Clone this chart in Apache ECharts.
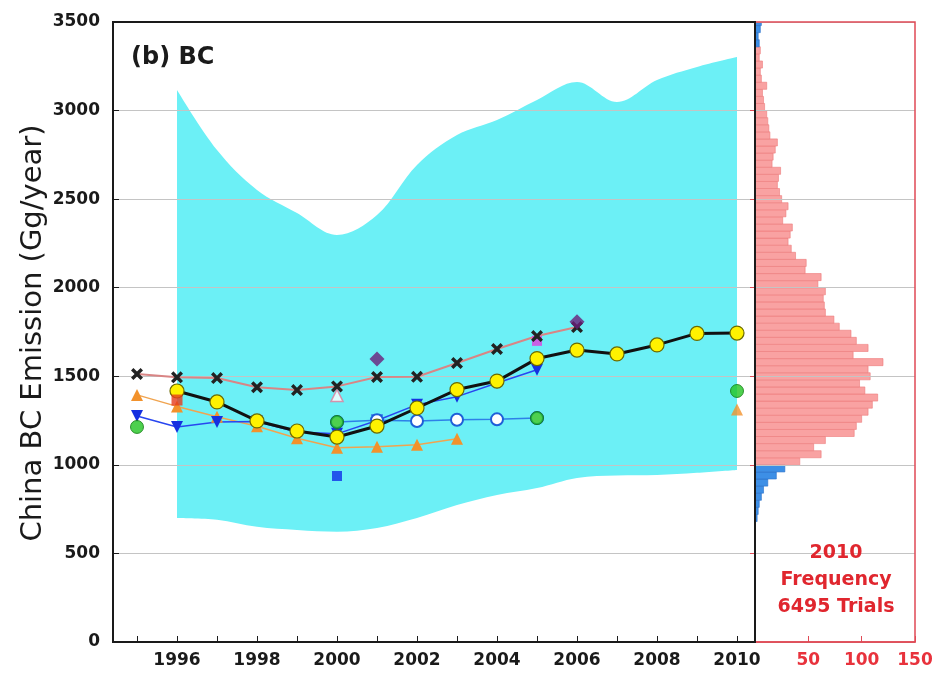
<!DOCTYPE html>
<html><head><meta charset="utf-8">
<script src="https://cdn.jsdelivr.net/npm/echarts@6/dist/echarts.min.js"></script>
<style>html,body{margin:0;padding:0;background:#fff}#c{width:936px;height:680px}</style>
</head><body><div id="c"></div>
<script>
// ---------- data ----------
const bandYears = [1996,1997,1998,1999,2000,2001,2002,2003,2004,2005,2006,2007,2008,2009,2010];
const bandUpper = [3116,2777,2552,2422,2298,2410,2693,2862,2947,3060,3161,3048,3172,3246,3302];
const bandLower = [700,690,650,632,622,644,700,773,830,869,926,940,943,955,971];

const thisStudyYears = [1996,1997,1998,1999,2000,2001,2002,2003,2004,2005,2006,2007,2008,2009,2010];
const thisStudy = [1417,1355,1248,1191,1157,1219,1321,1425,1473,1600,1648,1626,1677,1742,1744];

const crossYears = [1995,1996,1997,1998,1999,2000,2001,2002,2003,2004,2005,2006];
const crossVals = [1513,1494,1490,1438,1422,1443,1496,1497,1575,1654,1727,1778];

const blueTriYears = [1995,1996,1997,1998,1999,2000,2001,2002,2003,2004,2005];
const blueTriVals = [1276,1214,1242,1245,1185,1175,1250,1340,1385,1462,1537];

const openCircYears = [2000,2001,2002,2003,2004,2005];
const openCircVals = [1242,1252,1248,1255,1257,1264];

const orangeYears = [1995,1996,1997,1998,1999,2000,2001,2002,2003];
const orangeVals = [1395,1330,1272,1218,1150,1097,1102,1113,1147];

const orangeSingle = [[2010,1312]];
const greenCircles = [[1995,1214],[2000,1242],[2005,1264],[2010,1417]];
const redSquare = [[1996,1366]];
const blueSquare = [[2000,937]];
const purpleDiamond = [[2001,1597],[2006,1808]];
const magentaSquare = [[2005,1700]];
const pinkTriangle = [[2000,1392]];

const xTickYears = [1995,1996,1997,1998,1999,2000,2001,2002,2003,2004,2005,2006,2007,2008,2009,2010];
const xLabelYears = [1996,1998,2000,2002,2004,2006,2008,2010];

// 2010 Monte Carlo frequency histogram (bins of 40 Gg starting at 680)
const histStart = 680;
const histBinWidth = 40;
const histCounts = [
  2,3,4,6,8,12,20,28,
  42,62,55,66,93,95,100,106,110,115,103,98,108,106,120,92,106,95,90,79,74,66,65,64,66,59,62,47,48,38,
  34,31,33,35,26,29,31,25,23,21,22,24,16,17,19,21,14,13,12,11,9,8,7,11,6,5,7,4,5,
  4,3,5,6
];
const tailLow = 1000, tailHigh = 3360;

function zip(xs, ys){ return xs.map((x,i)=>[x, ys[i]]); }

const histData = histCounts.map((c,i)=>[histStart + i*histBinWidth, histStart + (i+1)*histBinWidth, c]);

const FONT = 'DejaVu Sans';
const crossPath = 'path://M2,0 L5,3 L8,0 L10,2 L7,5 L10,8 L8,10 L5,7 L2,10 L0,8 L3,5 L0,2 Z';
const SZ = 4; // z for data marks (above axes/gridlines)

const chart = echarts.init(document.getElementById('c'), null, {renderer:'canvas'});
chart.setOption({
  animation: false,
  backgroundColor: '#fff',
  grid: [
    {left: 755, top: 22, width: 160, height: 620, show: true, borderColor: '#e04a55', borderWidth: 1.5, backgroundColor: 'transparent', z: 5},
    {left: 113, top: 22, width: 642, height: 620, show: true, borderColor: '#1a1a1a', borderWidth: 2, backgroundColor: 'transparent', z: 6}
  ],
  xAxis: [
    {
      type: 'value', gridIndex: 1, min: 1994.4, max: 2010.45, z: 3,
      axisLine: {show: true, lineStyle: {color: '#1a1a1a', width: 2}},
      axisTick: {show: true, inside: true, length: 6, customValues: xTickYears, lineStyle: {color: '#1a1a1a', width: 1}},
      axisLabel: {show: true, customValues: xLabelYears, margin: 10, color: '#1a1a1a', fontFamily: FONT, fontWeight: 'bold', fontSize: 17,
        formatter: v => String(v)},
      splitLine: {show: false}
    },
    {
      type: 'value', gridIndex: 0, min: 0, max: 150, interval: 50, z: 3,
      axisLine: {show: true, lineStyle: {color: '#e04a55', width: 1.5}},
      axisTick: {show: true, inside: true, length: 6, lineStyle: {color: '#e04a55'}},
      axisLabel: {show: true, margin: 10, color: '#e8323c', fontFamily: FONT, fontWeight: 'bold', fontSize: 17,
        formatter: v => v === 0 ? '' : String(v)},
      splitLine: {show: false}
    }
  ],
  yAxis: [
    {
      type: 'value', gridIndex: 1, min: 0, max: 3500, interval: 500, z: 3,
      axisLine: {show: true, lineStyle: {color: '#1a1a1a', width: 2}},
      axisTick: {show: true, inside: true, length: 6, lineStyle: {color: '#1a1a1a'}},
      axisLabel: {margin: 13, color: '#1a1a1a', fontFamily: FONT, fontWeight: 'bold', fontSize: 17, formatter: v => String(v)},
      splitLine: {show: true, lineStyle: {color: '#c4c4c4', width: 1}}
    },
    {
      type: 'value', gridIndex: 0, min: 0, max: 3500, interval: 500, position: 'right', z: 3,
      axisLine: {show: false},
      axisTick: {show: true, inside: true, length: 5, lineStyle: {color: '#e04a55'}},
      axisLabel: {show: false},
      splitLine: {show: true, lineStyle: {color: '#c4c4c4', width: 1}}
    }
  ],
  graphic: [
    {type: 'text', x: 131, y: 46, z: 10, style: {text: '(b) BC', fill: '#1a1a1a', font: 'bold 24px "DejaVu Sans"'}},
    {type: 'text', x: 33, y: 333, rotation: Math.PI/2, z: 10,
      style: {text: 'China BC Emission (Gg/year)', fill: '#1a1a1a', font: '29px "DejaVu Sans"', align: 'center', verticalAlign: 'middle'}},
    {type: 'text', x: 836, y: 540, z: 10,
      style: {text: '2010\nFrequency\n6495 Trials', fill: '#e0262e', font: 'bold 19px "DejaVu Sans"', align: 'center', lineHeight: 27}}
  ],
  series: [
    {
      name: 'bandUpper', type: 'line', xAxisIndex: 0, yAxisIndex: 0, z: 1, silent: true,
      data: zip(bandYears, bandUpper), symbol: 'none', smooth: 0.35,
      lineStyle: {opacity: 0}, areaStyle: {color: '#6cf0f6', opacity: 1, origin: 'start'}
    },
    {
      name: 'bandLower', type: 'line', xAxisIndex: 0, yAxisIndex: 0, z: 2, silent: true,
      data: zip(bandYears, bandLower), symbol: 'none', smooth: 0.35,
      lineStyle: {opacity: 0}, areaStyle: {color: '#ffffff', opacity: 1, origin: 'start'}
    },
    {
      name: 'orange', type: 'line', xAxisIndex: 0, yAxisIndex: 0, z: SZ, data: zip(orangeYears, orangeVals),
      symbol: 'triangle', symbolSize: 12, itemStyle: {color: '#f2922c'}, lineStyle: {color: '#f0a450', width: 1.5}
    },
    {
      name: 'blueTri', type: 'line', xAxisIndex: 0, yAxisIndex: 0, z: SZ, data: zip(blueTriYears, blueTriVals),
      symbol: 'triangle', symbolRotate: 180, symbolSize: 12, itemStyle: {color: '#1530e0'}, lineStyle: {color: '#2846f0', width: 1.5}
    },
    {
      name: 'openCirc', type: 'line', xAxisIndex: 0, yAxisIndex: 0, z: SZ, data: zip(openCircYears, openCircVals),
      symbol: 'circle', symbolSize: 12, itemStyle: {color: '#ffffff', borderColor: '#1e5fd8', borderWidth: 2},
      lineStyle: {color: '#2e80e8', width: 1.5}
    },
    {name: 'pinkTri', type: 'scatter', xAxisIndex: 0, yAxisIndex: 0, z: SZ, data: pinkTriangle, symbol: 'triangle', symbolSize: 12,
      itemStyle: {color: '#ffffff', borderColor: '#e07a9a', borderWidth: 1.5}},
    {name: 'magentaSq', type: 'scatter', xAxisIndex: 0, yAxisIndex: 0, z: SZ, data: magentaSquare, symbol: 'rect', symbolSize: 10,
      itemStyle: {color: '#e040e0'}},
    {
      name: 'cross', type: 'line', xAxisIndex: 0, yAxisIndex: 0, z: SZ, data: zip(crossYears, crossVals),
      symbol: crossPath, symbolSize: 12, itemStyle: {color: '#222222'}, lineStyle: {color: '#d98585', width: 2}
    },
    {
      name: 'thisStudy', type: 'line', xAxisIndex: 0, yAxisIndex: 0, z: SZ, data: zip(thisStudyYears, thisStudy),
      symbol: 'circle', symbolSize: 14, itemStyle: {color: '#fff200', borderColor: '#6a6a00', borderWidth: 1.2},
      lineStyle: {color: '#111111', width: 3}
    },
    {name: 'green', type: 'scatter', xAxisIndex: 0, yAxisIndex: 0, z: SZ, data: greenCircles, symbol: 'circle', symbolSize: 13,
      itemStyle: {color: '#22c422', borderColor: '#107a10', borderWidth: 1}},
    {name: 'redSq', type: 'scatter', xAxisIndex: 0, yAxisIndex: 0, z: SZ, data: redSquare, symbol: 'rect', symbolSize: 11,
      itemStyle: {color: '#e53b1b'}},
    {name: 'blueSq', type: 'scatter', xAxisIndex: 0, yAxisIndex: 0, z: SZ, data: blueSquare, symbol: 'rect', symbolSize: 10,
      itemStyle: {color: '#1030e8'}},
    {name: 'purpleDia', type: 'scatter', xAxisIndex: 0, yAxisIndex: 0, z: SZ, data: purpleDiamond, symbol: 'diamond', symbolSize: 15,
      itemStyle: {color: '#6b1f7a'}},
    {name: 'orange2010', type: 'scatter', xAxisIndex: 0, yAxisIndex: 0, z: SZ, data: orangeSingle, symbol: 'triangle', symbolSize: 12,
      itemStyle: {color: '#f2922c'}},
    {
      name: 'hist', type: 'custom', xAxisIndex: 1, yAxisIndex: 1, clip: true, z: 2, data: histData,
      renderItem: function(params, api){
        const lo = api.value(0), hi = api.value(1), n = api.value(2);
        const p1 = api.coord([0, hi]);
        const p2 = api.coord([n, lo]);
        const tail = lo < tailLow || lo >= tailHigh;
        return {
          type: 'rect',
          shape: {x: p1[0], y: p1[1], width: p2[0]-p1[0], height: p2[1]-p1[1]},
          style: {fill: tail ? '#3d8fe6' : '#f9a2a2', stroke: tail ? '#2a6fc8' : '#ec7a7a', lineWidth: 0.6}
        };
      }
    }
  ]
});
</script>
</body></html>
